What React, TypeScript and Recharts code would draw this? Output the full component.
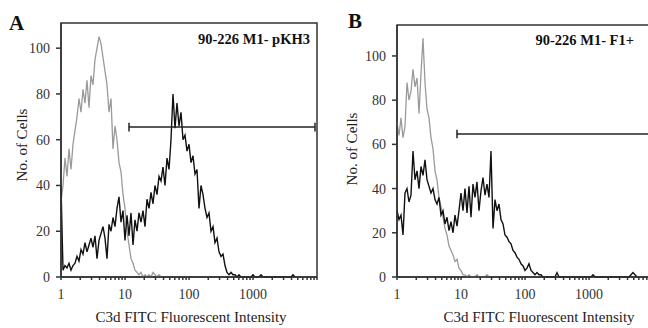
import { LineChart, Line, XAxis, YAxis, ReferenceArea, ReferenceLine } from "recharts";

// x axis is in instrument channels: 32 channels per decade, channel 0 = intensity 1
const decadeLabels = ["1", "10", "100", "1000"];
const cellTicks = [0, 20, 40, 60, 80, 100];

// panel A: 90-226 M1- pKH3
const grayA = [
  33, 40, 52, 44, 56, 47, 58, 64, 70, 78, 72, 82, 76, 86, 74, 88, 84, 95, 100, 105,
  102, 96, 90, 84, 72, 78, 56, 66, 60, 50, 46, 36, 30, 20, 14, 8, 6, 3, 2, 1,
  2, 0, 1, 0, 1, 0, 2, 1, 0, 1, 0,
];
const blackA = [
  40, 3, 5, 4, 6, 3, 5, 6, 9, 7, 12, 10, 15, 11, 14, 17, 13, 18, 8, 16,
  19, 22, 17, 8, 23, 20, 26, 22, 30, 35, 24, 29, 16, 27, 18, 28, 14, 25, 20, 28,
  24, 29, 22, 34, 30, 37, 32, 40, 36, 44, 42, 48, 40, 52, 47, 60, 80, 65, 76, 66,
  72, 60, 62, 55, 58, 50, 53, 45, 47, 30, 40, 36, 30, 26, 28, 20, 22, 15, 17, 11,
  9, 10, 5, 2, 1, 2, 1, 1, 0, 1, 0, 0, 0, 0, 0, 0, 1, 0, 0, 0,
  1, 0, 0, 0, 0, 0, 0, 0, 0, 0, 0, 0, 0, 0, 0, 0, 1, 0,
];

// panel B: 90-226 M1- F1+
const grayB = [
  70, 64, 72, 63, 68, 88, 80, 84, 94, 86, 90, 74, 92, 108, 88, 76, 72, 63, 58, 48,
  44, 36, 32, 27, 22, 19, 14, 12, 10, 7, 8, 4, 3, 1, 1, 0, 1, 0, 0, 0,
  1, 0, 0, 0, 0, 1, 0,
];
const blackB = [
  30, 26, 28, 19, 38, 40, 34, 37, 57, 44, 48, 40, 50, 46, 53, 44, 41, 38, 40, 35,
  33, 36, 28, 30, 24, 27, 21, 25, 20, 28, 23, 30, 38, 30, 40, 29, 41, 27, 42, 36,
  43, 30, 39, 45, 37, 42, 36, 57, 22, 35, 30, 33, 26, 24, 19, 18, 16, 15, 12, 11,
  9, 8, 6, 5, 3, 4, 6, 3, 2, 1, 2, 1, 1, 0, 0, 0, 0, 0, 0, 0,
  2, 0, 0, 0, 0, 0, 0, 0, 0, 0, 0, 0, 0, 0, 0, 0, 0, 0, 1, 0,
  0, 0, 0, 0, 0, 0, 0, 0, 0, 0, 0, 0, 0, 0, 0, 0, 0, 1, 2, 1, 0,
];

const perDecade = 32;
const lastCh = 128;

// log axis ticks (1..9 in every decade) in channel units
const logTicks: number[] = [];
for (let d = 0; d < 4; d++) {
  for (let k = 1; k < 10; k++) logTicks.push(+(perDecade * (d + Math.log10(k))).toFixed(2));
}
logTicks.push(lastCh);

const rows = (gray: number[], black: number[]) =>
  Array.from({ length: lastCh + 1 }, (_, ch) => ({ ch, gray: gray[ch], black: black[ch] }));

const fmtX = (v: number) => {
  const d = v / perDecade;
  return Number.isInteger(d) && d < decadeLabels.length ? decadeLabels[d] : "";
};

const serif = "Liberation Serif, DejaVu Serif, serif";
const tickStyle = { fill: "#333", fontSize: 14, style: { fontFamily: serif } };
const boxColor = "#333";

type PanelProps = {
  gray: number[];
  black: number[];
  yMax: number;
  gate: [number, number, number];
  left: number;
  width: number;
  top: number;
  right: number;
};

function Panel({ gray, black, yMax, gate, left, width, top, right }: PanelProps) {
  const [g0, g1, lvl] = gate;
  const cap = yMax * 0.017;
  return (
    <div style={{ position: "absolute", left, top: 0, fontFamily: serif }}>
      <LineChart width={width} height={328} data={rows(gray, black)} margin={{ top, right, bottom: 0, left: 0 }}>
        <XAxis
          dataKey="ch"
          type="number"
          domain={[0, lastCh]}
          ticks={logTicks}
          tickFormatter={fmtX}
          interval={0}
          height={51}
          tickSize={3}
          tickMargin={9}
          tick={tickStyle}
          stroke={boxColor}
          strokeWidth={1.5}
        />
        <YAxis
          type="number"
          domain={[0, yMax]}
          ticks={cellTicks}
          width={61}
          tickSize={5}
          tickMargin={6}
          tick={tickStyle}
          stroke={boxColor}
          strokeWidth={1.5}
        />
        <ReferenceArea x1={0} x2={lastCh} y1={0} y2={yMax} fill="none" stroke={boxColor} strokeWidth={1.5} />
        <Line dataKey="gray" type="linear" stroke="#9a9a9a" strokeWidth={1.3} dot={false} isAnimationActive={false} />
        <Line dataKey="black" type="linear" stroke="#111" strokeWidth={1.4} dot={false} isAnimationActive={false} />
        <ReferenceLine segment={[{ x: g0, y: lvl }, { x: g1, y: lvl }]} stroke="#222" strokeWidth={1.5} ifOverflow="visible" />
        <ReferenceLine segment={[{ x: g0, y: lvl - cap }, { x: g0, y: lvl + cap }]} stroke="#222" strokeWidth={1.5} />
        <ReferenceLine segment={[{ x: g1, y: lvl - cap }, { x: g1, y: lvl + cap }]} stroke="#222" strokeWidth={1.5} ifOverflow="visible" />
      </LineChart>
    </div>
  );
}

export default function App() {
  const axisTitle = { style: { fontFamily: serif, fontSize: 15 }, fill: "#222" };
  const bold = (size: number) => ({ style: { fontFamily: serif, fontWeight: 700, fontSize: size }, fill: "#111" });
  return (
    <div style={{ position: "absolute", left: 0, top: 0, width: 648, height: 328, overflow: "hidden", background: "#fff" }}>
      <Panel gray={grayA} black={blackA} yMax={111} gate={[34, 127, 65.5]} left={0} width={324} top={23} right={7} />
      <Panel gray={grayB} black={blackB} yMax={114} gate={[30, 127, 64.7]} left={336} width={330} top={25} right={13} />
      <svg width={648} height={328} style={{ position: "absolute", left: 0, top: 0, pointerEvents: "none" }}>
        <text x={9} y={30} {...bold(21)}>A</text>
        <text x={348} y={28} {...bold(21)}>B</text>
        <text x={310} y={44} textAnchor="end" {...bold(14.5)}>90-226 M1- pKH3</text>
        <text x={634} y={45} textAnchor="end" {...bold(14.5)}>90-226 M1- F1+</text>
        <text transform="translate(27,145) rotate(-90)" textAnchor="middle" {...axisTitle}>No. of Cells</text>
        <text transform="translate(357,149) rotate(-90)" textAnchor="middle" {...axisTitle}>No. of Cells</text>
        <text x={191} y={322} textAnchor="middle" {...axisTitle}>C3d FITC Fluorescent Intensity</text>
        <text x={539} y={322} textAnchor="middle" {...axisTitle}>C3d FITC Fluorescent Intensity</text>
      </svg>
    </div>
  );
}
